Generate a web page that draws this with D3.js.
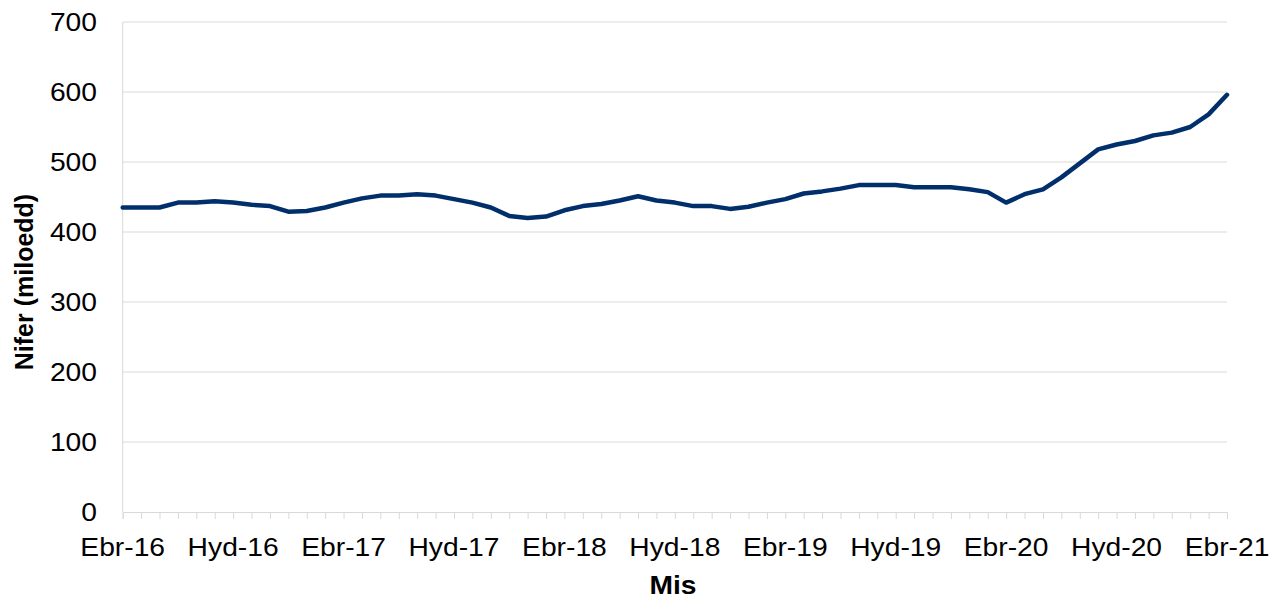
<!DOCTYPE html>
<html lang="cy">
<head>
    <meta charset="UTF-8"/>
    <title>Nifer (miloedd) fesul mis</title>
    <script src="https://d3js.org/d3.v7.min.js"></script>
    <style>
        body { margin: 0; background: #fff; }
        text { font-family: "Liberation Sans", Arial, sans-serif; fill: #000; }
    </style>
</head>
<body>
    <script>
        // Ebr-16 .. Ebr-21, one value per month
        var months = d3.range(61);
        var values = [
            435, 435, 435, 442, 442, 444, 442, 439, 437, 429,
            430, 435, 442, 448, 452, 452, 454, 452, 447, 442,
            435, 423, 420, 422, 431, 437, 440, 445, 451, 445,
            442, 437, 437, 433, 436, 442, 447, 455, 458, 462,
            467, 467, 467, 464, 464, 464, 461, 457, 442, 454,
            461, 478, 498, 518, 525, 530, 538, 542, 550, 568, 596
        ];
        var tickLabels = ["Ebr-16", "Hyd-16", "Ebr-17", "Hyd-17", "Ebr-18", "Hyd-18",
                          "Ebr-19", "Hyd-19", "Ebr-20", "Hyd-20", "Ebr-21"];
        var yTicks = [0, 100, 200, 300, 400, 500, 600, 700];

        var w = 1279;
        var h = 600;
        var margin = {top: 22, right: 52, bottom: 88, left: 122.7};
        var stretch = 1.13; // text in the picture is a little wide

        var svg = d3.select("body")
                    .append("svg")
                    .attr("width", w)
                    .attr("height", h);

        var xScale = d3.scaleLinear()
            .domain([0, 60])
            .range([margin.left, w - margin.right]);

        var yScale = d3.scaleLinear()
            .domain([0, 700])
            .range([h - margin.bottom, margin.top]);

        // gridlines
        svg.append("g")
            .selectAll("line")
            .data(yTicks.slice(1))
            .enter()
            .append("line")
            .attr("x1", margin.left)
            .attr("x2", w - margin.right)
            .attr("y1", d => yScale(d))
            .attr("y2", d => yScale(d))
            .attr("stroke", "#d9d9d9")
            .attr("stroke-width", 1);

        // y axis line
        svg.append("line")
            .attr("x1", margin.left).attr("x2", margin.left)
            .attr("y1", yScale(700)).attr("y2", yScale(0))
            .attr("stroke", "#d9d9d9");

        // x axis with a tick every month
        var xAxis = d3.axisBottom(xScale)
            .tickValues(months)
            .tickSize(7)
            .tickFormat("");

        var gx = svg.append("g")
            .attr("transform", "translate(0," + yScale(0) + ")")
            .call(xAxis);
        gx.selectAll("path, line").attr("stroke", "#d9d9d9");

        // x labels every 6 months
        svg.append("g")
            .selectAll("text")
            .data(tickLabels)
            .enter()
            .append("text")
            .attr("transform", (d, i) => "translate(" + xScale(i * 6) + "," + 556 + ") scale(" + stretch + ",1)")
            .attr("text-anchor", "middle")
            .attr("font-size", "25px")
            .text(d => d);

        // y labels
        svg.append("g")
            .selectAll("text")
            .data(yTicks)
            .enter()
            .append("text")
            .attr("transform", d => "translate(97," + (yScale(d) + 9) + ") scale(" + stretch + ",1)")
            .attr("text-anchor", "end")
            .attr("font-size", "25px")
            .text(d => d);

        // axis titles
        svg.append("text")
            .attr("transform", "translate(673,594) scale(" + stretch + ",1)")
            .attr("text-anchor", "middle")
            .attr("font-size", "25px")
            .attr("font-weight", "bold")
            .text("Mis");

        svg.append("text")
            .attr("transform", "translate(33,282) rotate(-90)")
            .attr("text-anchor", "middle")
            .attr("font-size", "25px")
            .attr("font-weight", "bold")
            .text("Nifer (miloedd)");

        // the line
        var line = d3.line()
            .x((d, i) => xScale(months[i]))
            .y(d => yScale(d));

        svg.append("path")
            .datum(values)
            .attr("d", line)
            .attr("fill", "none")
            .attr("stroke", "#002f6c")
            .attr("stroke-width", 4.5)
            .attr("stroke-linejoin", "round")
            .attr("stroke-linecap", "round");
    </script>
</body>
</html>
